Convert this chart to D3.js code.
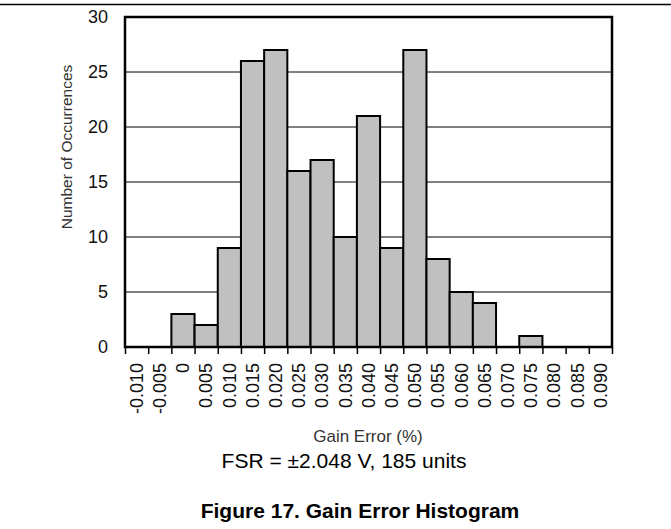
<!DOCTYPE html>
<html>
<head>
<meta charset="utf-8">
<script src="https://cdn.jsdelivr.net/npm/d3@7/dist/d3.min.js"></script>
<style>
  html, body { margin: 0; padding: 0; background: #fff; }
  svg { display: block; font-family: "Liberation Sans", Arial, Helvetica, sans-serif; }
</style>
</head>
<body>
<svg id="chart" width="671" height="529"></svg>
<script>
// ---- data ----
const categories = ["-0.010","-0.005","0","0.005","0.010","0.015","0.020","0.025","0.030","0.035","0.040","0.045","0.050","0.055","0.060","0.065","0.070","0.075","0.080","0.085","0.090"];
const counts     = [0, 0, 3, 2, 9, 26, 27, 16, 17, 10, 21, 9, 27, 8, 5, 4, 0, 1, 0, 0, 0];
const yTicks     = [0, 5, 10, 15, 20, 25, 30];
const yGridTicks = [5, 10, 15, 20, 25];
const xTitle     = "Gain Error (%)";
const yTitle     = "Number of Occurrences";
const subTitle   = "FSR = \u00B12.048 V, 185 units";
const figTitle   = "Figure 17. Gain Error Histogram";

// ---- layout ----
const pLeft = 125, pRight = 612, pTop = 17, pBottom = 347;
const svg = d3.select("#chart");

const x = d3.scaleBand().domain(categories).range([pLeft, pRight]).padding(0);
const xEdge = d3.scaleLinear().domain([0, categories.length]).range([pLeft, pRight]);
const y = d3.scaleLinear().domain([0, 30]).range([pBottom, pTop]);

// top separator line
svg.append("line").attr("x1", 0).attr("x2", 671).attr("y1", 4.5).attr("y2", 4.5)
  .attr("stroke", "#000").attr("stroke-width", 1.5);

// grid lines
svg.append("g").selectAll("line").data(yGridTicks).join("line")
  .attr("x1", pLeft).attr("x2", pRight)
  .attr("y1", d => y(d)).attr("y2", d => y(d))
  .attr("stroke", "#000").attr("stroke-width", 1);

// bars
svg.append("g").selectAll("rect").data(categories.map((c, i) => ({c, v: counts[i]})).filter(d => d.v > 0))
  .join("rect")
  .attr("x", d => x(d.c))
  .attr("y", d => y(d.v))
  .attr("width", x.bandwidth())
  .attr("height", d => y(0) - y(d.v))
  .attr("fill", "#c0c0c0")
  .attr("stroke", "#000")
  .attr("stroke-width", 2);

// frame
svg.append("rect").attr("x", pLeft).attr("y", pTop)
  .attr("width", pRight - pLeft).attr("height", pBottom - pTop)
  .attr("fill", "none").attr("stroke", "#000").attr("stroke-width", 2.5);

// x tick marks at bin edges
const xTickAxis = d3.axisBottom(xEdge).tickValues(d3.range(categories.length + 1)).tickSize(7).tickFormat("");
const gxt = svg.append("g").attr("transform", `translate(0,${pBottom})`).call(xTickAxis);
gxt.select(".domain").remove();
gxt.selectAll("line").attr("stroke", "#000").attr("stroke-width", 1.5);

// x tick labels
const xLabelAxis = d3.axisBottom(x).tickSize(0).tickPadding(0);
const gxl = svg.append("g").attr("transform", `translate(0,${pBottom})`).call(xLabelAxis);
gxl.select(".domain").remove();
gxl.selectAll("text")
  .attr("font-size", 18).attr("fill", "#111")
  .attr("font-family", "Liberation Sans, Arial, sans-serif")
  .attr("text-anchor", "end")
  .attr("transform", "rotate(-90)")
  .attr("x", -16).attr("y", 0).attr("dy", "0.35em");

// y tick labels
const yAxis = d3.axisLeft(y).tickValues(yTicks).tickSize(0).tickPadding(17);
const gy = svg.append("g").attr("transform", `translate(${pLeft},0)`).call(yAxis);
gy.select(".domain").remove();
gy.selectAll("text").attr("font-size", 18).attr("fill", "#111")
  .attr("font-family", "Liberation Sans, Arial, sans-serif");

// y title
svg.append("text")
  .attr("transform", `translate(72,147) rotate(-90)`)
  .attr("text-anchor", "middle")
  .attr("font-size", 15.5).attr("fill", "#333")
  .text(yTitle);

// x title
svg.append("text").attr("x", 368).attr("y", 442)
  .attr("text-anchor", "middle").attr("font-size", 17).attr("fill", "#333")
  .text(xTitle);

// subtitle
svg.append("text").attr("x", 344).attr("y", 468)
  .attr("text-anchor", "middle").attr("font-size", 21).attr("fill", "#000")
  .text(subTitle);

// figure title
svg.append("text").attr("x", 360).attr("y", 518)
  .attr("text-anchor", "middle").attr("font-size", 21).attr("font-weight", "bold").attr("fill", "#000")
  .text(figTitle);
</script>
</body>
</html>
